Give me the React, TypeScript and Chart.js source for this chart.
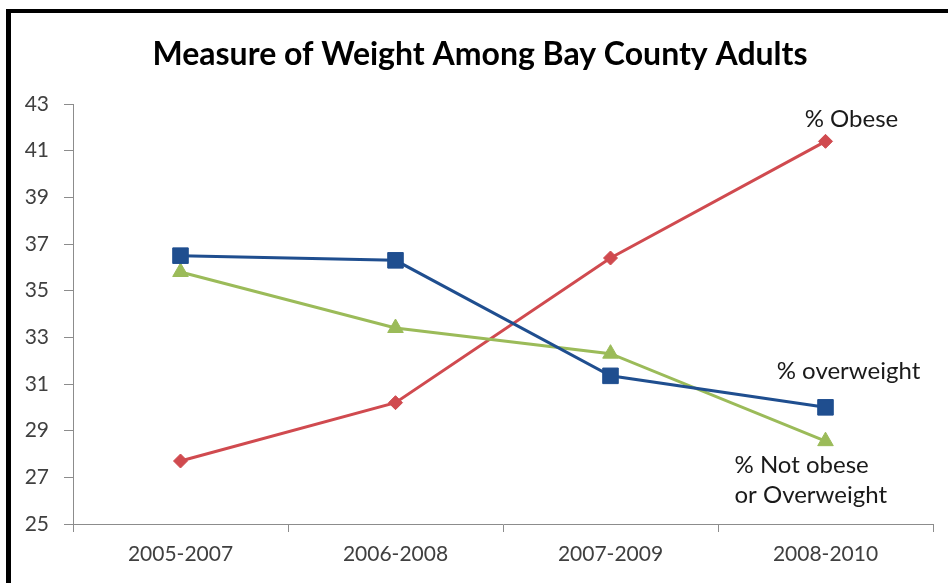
import React, { useEffect, useRef } from "react";
import { Chart, registerables } from "chart.js";

Chart.register(...registerables);

const categories = ["2005-2007", "2006-2008", "2007-2009", "2008-2010"];
const overweight = [36.5, 36.3, 31.35, 30.0];
const notObese = [35.8, 33.4, 32.3, 28.55];
const obese = [27.7, 30.2, 36.4, 41.4];
const yTicks = [25, 27, 29, 31, 33, 35, 37, 39, 41, 43];
const seriesNames = ["% overweight", "% Not obese or Overweight", "% Obese"];
const titleText = "Measure of Weight Among Bay County Adults";

const FONT = "Lato, 'Open Sans', sans-serif";

const framePlugin = {
  id: "frame",
  beforeDraw(chart: any) {
    const ctx = chart.ctx;
    ctx.save();
    ctx.fillStyle = "#fff";
    ctx.fillRect(0, 0, chart.width, chart.height);
    ctx.fillStyle = "#000";
    ctx.fillRect(6, 9, chart.width - 6, 4);
    ctx.fillRect(6, 9, 5, chart.height - 9);
    ctx.font = `bold 32px ${FONT}`;
    ctx.textAlign = "center";
    ctx.textBaseline = "middle";
    ctx.fillText(titleText, 480, 55);
    ctx.restore();
  },
};

const labelPlugin = {
  id: "endLabels",
  afterDatasetsDraw(chart: any) {
    const ctx = chart.ctx;
    const pt = (ds: number, i: number) => chart.getDatasetMeta(ds).data[i];
    ctx.save();
    ctx.fillStyle = "#1a1a1a";
    ctx.font = `24px ${FONT}`;
    ctx.textBaseline = "middle";
    const pObese = pt(2, 3);
    ctx.textAlign = "center";
    ctx.fillText("% Obese", pObese.x + 26, pObese.y - 22);
    const pOver = pt(0, 3);
    ctx.fillText("% overweight", pOver.x + 23, pOver.y - 36);
    const pNot = pt(1, 3);
    ctx.textAlign = "left";
    ctx.fillText("% Not obese", pNot.x - 91, pNot.y + 24);
    ctx.fillText("or Overweight", pNot.x - 91, pNot.y + 54);
    ctx.restore();
  },
};

export default function App() {
  const ref = useRef<HTMLCanvasElement>(null);
  useEffect(() => {
    if (!ref.current) return;
    const chart = new Chart(ref.current, {
      type: "line",
      data: {
        labels: categories,
        datasets: [
          {
            label: seriesNames[0],
            data: overweight,
            borderColor: "#1F4E8F",
            backgroundColor: "#1F4E8F",
            borderWidth: 3,
            pointStyle: "rect",
            pointRadius: 11,
            pointBorderWidth: 1,
          },
          {
            label: seriesNames[1],
            data: notObese,
            borderColor: "#9BBB59",
            backgroundColor: "#9BBB59",
            borderWidth: 3,
            pointStyle: "triangle",
            pointRadius: 9,
            pointBorderWidth: 1,
          },
          {
            label: seriesNames[2],
            data: obese,
            borderColor: "#D04A4F",
            backgroundColor: "#D04A4F",
            borderWidth: 3,
            pointStyle: "rectRot",
            pointRadius: 7,
            pointBorderWidth: 1,
          },
        ],
      },
      options: {
        animation: false,
        responsive: false,
        maintainAspectRatio: false,
        layout: { padding: { left: 0, right: 15, top: 104, bottom: 0 } },
        plugins: {
          legend: { display: false },
          tooltip: { enabled: false },
          title: { display: false },
        },
        scales: {
          x: {
            offset: true,
            grid: {
              display: true,
              offset: true,
              drawOnChartArea: false,
              drawTicks: true,
              tickLength: 8,
              color: "#8c8c8c",
            },
            border: { display: true, color: "#8c8c8c", width: 1 },
            ticks: {
              color: "#404040",
              font: { family: FONT, size: 21 },
              padding: 10,
              maxRotation: 0,
            },
            afterFit(scale: any) {
              scale.height = 59;
            },
          },
          y: {
            min: 25,
            max: 43,
            afterBuildTicks(scale: any) {
              scale.ticks = yTicks.map((v) => ({ value: v }));
            },
            grid: {
              display: true,
              drawOnChartArea: false,
              drawTicks: true,
              tickLength: 9,
              color: "#8c8c8c",
            },
            border: { display: true, color: "#8c8c8c", width: 1 },
            ticks: {
              color: "#404040",
              font: { family: FONT, size: 21 },
              padding: 15,
            },
            afterFit(scale: any) {
              scale.width = 73;
            },
          },
        },
      },
      plugins: [framePlugin, labelPlugin],
    });
    return () => chart.destroy();
  }, []);

  return (
    <div
      style={{
        position: "fixed",
        left: 0,
        top: 0,
        width: 948,
        height: 583,
        background: "#fff",
        overflow: "hidden",
      }}
    >
      <canvas
        ref={ref}
        width={948}
        height={583}
        style={{ position: "absolute", left: 0, top: 0 }}
      />
    </div>
  );
}
